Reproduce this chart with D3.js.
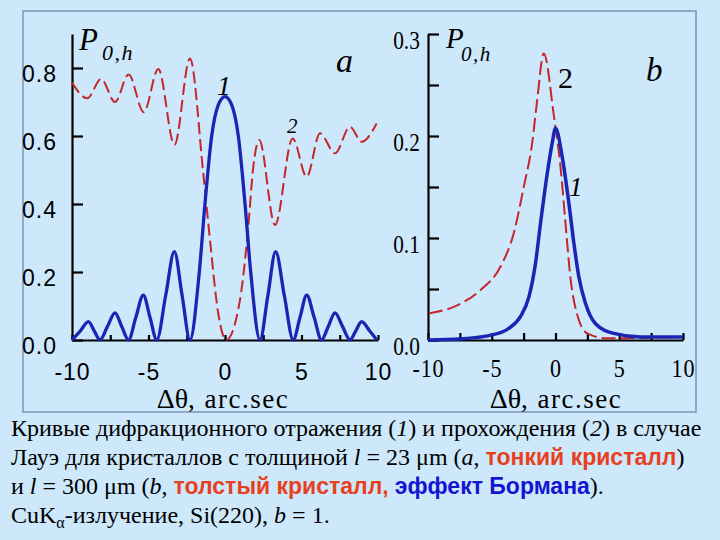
<!DOCTYPE html>
<html>
<head>
<meta charset="utf-8">
<script src="https://cdn.jsdelivr.net/npm/d3@7"></script>
<style>
body { margin: 0; background: #cde8fa; }
svg { display: block; }
</style>
</head>
<body>
<svg width="720" height="540"></svg>
<script>
// panel a: thin crystal (l = 23 um)
const aReflX = [-10, -9.45, -8.93, -8.55, -8.17, -7.68, -7.19, -6.75, -6.31, -5.83, -5.34, -4.9, -4.46, -3.88, -3.31, -2.8, -2.29,
    -1.68, -1.31, -0.87, -0.45, 0, 0.45, 0.87, 1.31, 1.68,
    2.29, 2.8, 3.31, 3.88, 4.46, 4.9, 5.34, 5.83, 6.31, 6.75, 7.19, 7.68, 8.17, 8.55, 8.93, 9.45, 9.92];
const aReflY = [0, 0.027, 0.054, 0.027, 0, 0.04, 0.08, 0.04, 0, 0.066, 0.132, 0.066, 0, 0.13, 0.26, 0.13, 0,
    0.2, 0.4, 0.6, 0.69, 0.716, 0.69, 0.6, 0.4, 0.2,
    0, 0.13, 0.26, 0.13, 0, 0.066, 0.132, 0.066, 0, 0.04, 0.08, 0.04, 0, 0.027, 0.054, 0.027, 0];
const aTransX = [-10, -9.0, -8.1, -7.19, -6.3, -5.31, -4.36, -3.3, -2.29, -1.42, -0.98, -0.44, 0.08, 0.98, 1.52, 1.85, 2.24,
    3.27, 4.42, 5.34, 6.21, 7.19, 8.17, 8.93, 9.91];
const aTransY = [0.757, 0.711, 0.768, 0.70, 0.781, 0.67, 0.797, 0.574, 0.828, 0.49, 0.294, 0.078, 0.0, 0.118, 0.333, 0.51, 0.588,
    0.338, 0.593, 0.48, 0.608, 0.549, 0.627, 0.583, 0.637];

// panel b: thick crystal (l = 300 um)
const bReflX = [-10, -7.5, -4.96, -3.66, -2.75, -2.09, -1.57, -1.18, -0.65, -0.26, 0, 0.52, 1.05, 1.44, 1.83, 2.35, 3.14, 4.58, 6.67, 10];
const bReflY = [0, 0.001, 0.005, 0.0114, 0.023, 0.042, 0.075, 0.114, 0.163, 0.193, 0.2075, 0.18, 0.134, 0.095, 0.062, 0.036, 0.016, 0.0065, 0.003, 0.003];
const bTransX = [-9.93, -7.71, -5.88, -4.31, -3.27, -2.49, -1.83, -1.44, -0.92, -0.13, 0.39, 0.78, 1.18, 1.7, 2.49, 4.05, 10];
const bTransY = [0.026, 0.034, 0.049, 0.072, 0.105, 0.15, 0.193, 0.235, 0.281, 0.22, 0.17, 0.115, 0.06, 0.025, 0.0065, 0.0016, 0.003];

// ticks
const xTicks = [-10, -7.5, -5, -2.5, 0, 2.5, 5, 7.5, 10];
const aYTicks = [0, 0.2, 0.4, 0.6, 0.8];
const bYTicks = [0, 0.05, 0.1, 0.15, 0.2, 0.25, 0.3];

const blue = "#1a25b4";
const red = "#c4262c";

let svg = d3.select("svg");

svg.append("rect")
    .attr("width", 720).attr("height", 540)
    .attr("fill", "#cde8fa");

svg.append("rect")
    .attr("x", 23).attr("y", 11)
    .attr("width", 673).attr("height", 401)
    .attr("fill", "none")
    .attr("stroke", "#7d93b6")
    .attr("stroke-width", 1.5);

let xA = d3.scaleLinear().domain([-10, 10]).range([72, 378]);
let yA = d3.scaleLinear().domain([0, 0.9]).range([340, 34]);
let xB = d3.scaleLinear().domain([-10, 10]).range([428, 683]);
let yB = d3.scaleLinear().domain([0, 0.3]).range([340, 34]);

let drawCurve = (xs, ys, xScale, yScale, color, width, dash) => {
    let line = d3.line()
        .x(d => xScale(d[0]))
        .y(d => yScale(d[1]))
        .curve(d3.curveMonotoneX);
    svg.append("path")
        .datum(d3.zip(xs, ys))
        .attr("d", line)
        .attr("fill", "none")
        .attr("stroke", color)
        .attr("stroke-width", width)
        .attr("stroke-linejoin", "round")
        .attr("stroke-dasharray", dash);
};

let styleAxis = (g) => {
    g.select(".domain").attr("stroke", "#000").attr("stroke-width", 2.2);
    g.selectAll(".tick line").attr("stroke", "#000").attr("stroke-width", 2.2);
};

// plain hyphen instead of d3's unicode minus, as on the original
let intLabel = d => d % 5 === 0 ? String(d) : "";

// ---- panel a axes
let gAy = svg.append("g")
    .attr("transform", "translate(72,0)")
    .call(d3.axisLeft(yA).tickValues(aYTicks).tickSize(-11).tickSizeOuter(0).tickPadding(15)
        .tickFormat(d3.format(".1f")));
styleAxis(gAy);
gAy.selectAll("text")
    .attr("font-family", "'Liberation Sans', Arial, sans-serif")
    .attr("font-size", 23)
    .attr("letter-spacing", 1)
    .attr("fill", "#000")
    .attr("dy", "0.6em");

let gAx = svg.append("g")
    .attr("transform", "translate(0,340)")
    .call(d3.axisBottom(xA).tickValues(xTicks).tickSize(-5).tickSizeOuter(0).tickFormat(intLabel));
styleAxis(gAx);
gAx.selectAll("text")
    .attr("font-family", "'Liberation Sans', Arial, sans-serif")
    .attr("font-size", 23)
    .attr("letter-spacing", 1)
    .attr("fill", "#000")
    .attr("y", 40).attr("dy", null);

// ---- panel b axes
let gBy = svg.append("g")
    .attr("transform", "translate(428,0)")
    .call(d3.axisLeft(yB).tickValues(bYTicks).tickSize(-11).tickSizeOuter(0).tickPadding(10)
        .tickFormat(d => [0, 0.1, 0.2, 0.3].includes(d) ? d3.format(".1f")(d) : ""));
styleAxis(gBy);
gBy.selectAll("text")
    .attr("font-family", "'Liberation Serif', 'Times New Roman', serif")
    .attr("font-size", 26)
    .attr("fill", "#000")
    .attr("transform", "scale(0.82,1)")
    .attr("dy", "0.55em");

let gBx = svg.append("g")
    .attr("transform", "translate(0,340)")
    .call(d3.axisBottom(xB).tickValues(xTicks).tickSize(-7).tickSizeOuter(0).tickFormat(intLabel));
styleAxis(gBx);
gBx.selectAll("text")
    .attr("font-family", "'Liberation Serif', 'Times New Roman', serif")
    .attr("font-size", 26)
    .attr("letter-spacing", 1)
    .attr("fill", "#000")
    .attr("transform", "scale(0.85,1)")
    .attr("y", 37).attr("dy", null);

// ---- curves
drawCurve(aTransX, aTransY, xA, yA, red, 2, "12,5");
drawCurve(aReflX, aReflY, xA, yA, blue, 3.3, null);
drawCurve(bTransX, bTransY, xB, yB, red, 2, "14,5");
drawCurve(bReflX, bReflY, xB, yB, blue, 3.5, null);

// ---- labels
let serif = "'Liberation Serif', 'Times New Roman', serif";
let addText = (x, y, txt, size, italic, anchor) => {
    return svg.append("text")
        .attr("x", x).attr("y", y)
        .attr("font-family", serif)
        .attr("font-size", size)
        .attr("font-style", italic ? "italic" : "normal")
        .attr("text-anchor", anchor || "start")
        .attr("fill", "#000")
        .text(txt);
};

addText(79, 50, "P", 31, true);
addText(102, 60, "0,h", 22, true).attr("letter-spacing", 1.5);
addText(446, 48, "P", 29, true);
addText(461, 61, "0,h", 21, true).attr("letter-spacing", 1.5);

addText(336, 72, "a", 34, true);
addText(646, 81, "b", 33, true);
addText(217, 95, "1", 28, true);
addText(287, 133, "2", 21, true);
addText(558, 88, "2", 30, false);
addText(569, 196, "1", 27, true);

let axisTitle = (cx) => {
    let t = svg.append("text")
        .attr("x", cx).attr("y", 408)
        .attr("font-family", serif)
        .attr("text-anchor", "middle")
        .attr("fill", "#000");
    t.append("tspan").attr("font-size", 28).text("Δθ");
    t.append("tspan").attr("font-size", 27).attr("letter-spacing", 1.5).text(", arc.sec");
};
axisTitle(223);
axisTitle(556);

// ---- caption
let capSize = 24;
let sans = "'Liberation Sans', Arial, sans-serif";
let orange = "#e8401e";
let royal = "#1414d2";

let capLine = (y, parts) => {
    let t = svg.append("text")
        .attr("x", 11).attr("y", y)
        .attr("font-family", serif)
        .attr("font-size", capSize)
        .attr("fill", "#000");
    parts.forEach(p => {
        let s = t.append("tspan").text(p.t);
        if (p.i) s.attr("font-style", "italic");
        if (p.c) s.attr("font-family", sans).attr("font-weight", "bold").attr("font-size", 23).attr("fill", p.c);
        if (p.sub) s.attr("font-size", 16).attr("baseline-shift", "-30%");
    });
};

capLine(436, [{t: "Кривые дифракционного отражения ("}, {t: "1", i: true}, {t: ") и прохождения ("},
    {t: "2", i: true}, {t: ") в случае"}]);
capLine(465, [{t: "Лауэ для кристаллов с толщиной "}, {t: "l", i: true}, {t: " = 23 μm ("}, {t: "a", i: true},
    {t: ", "}, {t: "тонкий кристалл", c: orange}, {t: ")"}]);
capLine(494, [{t: "и "}, {t: "l", i: true}, {t: " = 300 μm ("}, {t: "b", i: true}, {t: ", "},
    {t: "толстый кристалл,", c: orange}, {t: " "}, {t: "эффект Бормана", c: royal}, {t: ")."}]);
capLine(523, [{t: "CuK"}, {t: "α", sub: true}, {t: "-излучение, Si(220), "}, {t: "b", i: true}, {t: " = 1."}]);
</script>
</body>
</html>
